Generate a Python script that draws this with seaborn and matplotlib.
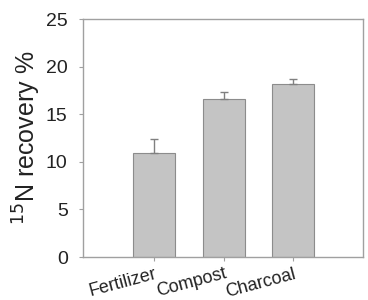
import matplotlib
matplotlib.use("Agg")
import matplotlib.pyplot as plt
import seaborn as sns
import pandas as pd

categories = ["Fertilizer", "Compost", "Charcoal"]
recovery = [10.9, 16.6, 18.2]
errors = [1.5, 0.7, 0.5]
yticks = [0, 5, 10, 15, 20, 25]

sns.set_theme(style="white")
plt.rcParams['font.family'] = ['Liberation Sans', 'DejaVu Sans']

df = pd.DataFrame({"cat": categories, "val": recovery})

fig = plt.figure(figsize=(3.68, 3.00), dpi=100)
ax = fig.add_axes([83/368, 1-257/300, 280/368, 238/300])
sns.barplot(data=df, x="cat", y="val", ax=ax, color="#c4c4c4", width=0.6,
            edgecolor="#8c8c8c", linewidth=0.8, saturation=1, errorbar=None)
ax.errorbar(range(len(categories)), recovery, yerr=[[0]*3, errors], fmt="none",
            ecolor="#808080", elinewidth=1.0, capsize=3, capthick=1.0)
ax.set_xlim(-1.02, 3.0)
ax.set_ylim(0, 25)
ax.set_yticks(yticks)
ax.set_yticklabels([str(t) for t in yticks], fontsize=14, color="#222222")
ax.set_xticks(range(len(categories)))
ax.set_xticklabels(categories, rotation=15, fontsize=13, color="#222222",
                   ha="right", rotation_mode="anchor")
ax.set_xlabel("")
ax.set_ylabel("$^{15}$N recovery %", fontsize=18, color="#222222", labelpad=2)
for s in ax.spines.values():
    s.set_color("#a0a0a0")
    s.set_linewidth(1.0)
ax.tick_params(axis="both", which="both", direction="out", length=3, width=0.8,
               color="#a0a0a0", left=True, bottom=True)
ax.tick_params(axis="y", pad=8)
ax.tick_params(axis="x", pad=3)
fig.savefig("out.png", dpi=100)
